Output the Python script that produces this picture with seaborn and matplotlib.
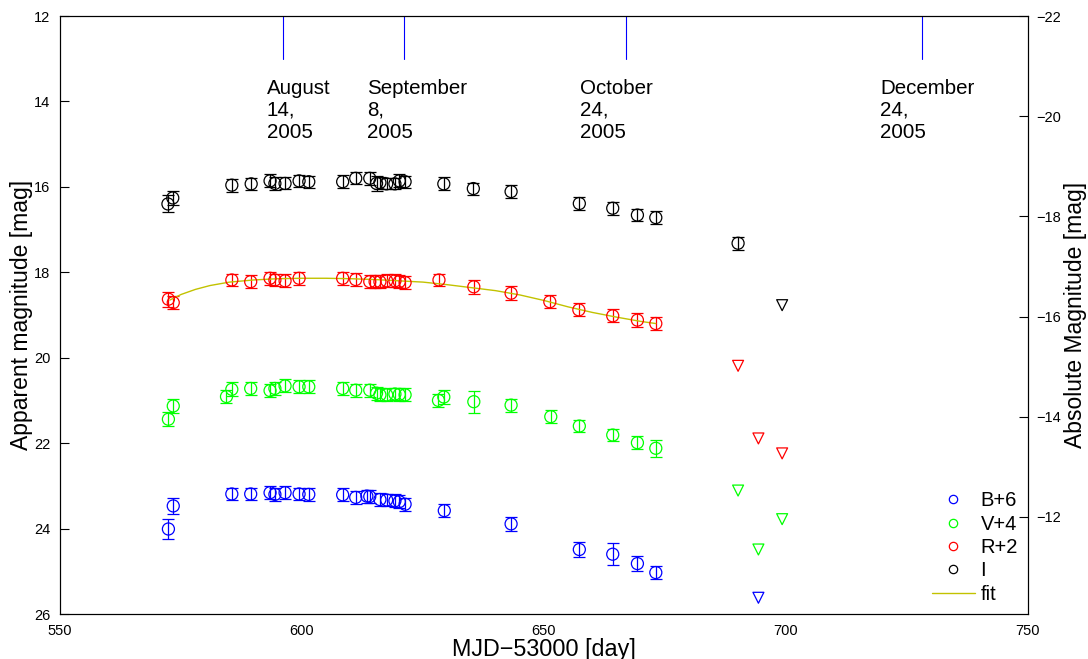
import numpy as np
import pandas as pd
import matplotlib
matplotlib.use("Agg")
import matplotlib.pyplot as plt
from matplotlib.lines import Line2D
import seaborn as sns

# ---------------- data ----------------
i_day = [572.3, 573.3, 585.5, 589.5, 593.4, 594.4, 596.5, 599.4, 601.4, 608.4, 611.1, 614.0,
         615.4, 616.1, 617.5, 619.2, 620.1, 621.3, 629.3, 635.4, 643.2, 657.3, 664.2, 669.3,
         673.1, 690.1]
i_mag = [16.40, 16.26, 15.96, 15.93, 15.86, 15.92, 15.92, 15.86, 15.88, 15.88, 15.80, 15.80,
         15.92, 15.90, 15.93, 15.93, 15.86, 15.88, 15.93, 16.04, 16.11, 16.39, 16.50, 16.66,
         16.72, 17.32]
i_err = [0.20, 0.17, 0.15, 0.14, 0.15, 0.16, 0.14, 0.14, 0.14, 0.15, 0.14, 0.15,
         0.17, 0.14, 0.13, 0.13, 0.15, 0.14, 0.15, 0.14, 0.15, 0.15, 0.15, 0.15,
         0.15, 0.15]

r_day = [572.4, 573.4, 585.5, 589.4, 593.4, 594.4, 596.5, 599.4, 608.4, 611.1, 614.0, 615.1,
         616.1, 617.5, 619.2, 620.1, 621.3, 628.3, 635.5, 643.2, 651.2, 657.2, 664.2, 669.3,
         673.1]
r_mag = [18.63, 18.71, 18.18, 18.22, 18.14, 18.18, 18.20, 18.14, 18.14, 18.17, 18.22, 18.22,
         18.22, 18.20, 18.20, 18.22, 18.24, 18.18, 18.34, 18.49, 18.69, 18.88, 19.02, 19.12,
         19.20]
r_err = [0.18, 0.16, 0.15, 0.15, 0.15, 0.15, 0.15, 0.15, 0.15, 0.15, 0.15, 0.15,
         0.15, 0.15, 0.15, 0.15, 0.15, 0.15, 0.16, 0.16, 0.15, 0.15, 0.15, 0.16,
         0.15]

v_day = [572.4, 573.4, 584.4, 585.5, 589.4, 593.4, 594.4, 596.5, 599.4, 601.4, 608.4, 611.1,
         614.0, 615.4, 616.1, 617.5, 619.2, 620.1, 621.3, 628.2, 629.3, 635.5, 643.2, 651.4,
         657.3, 664.2, 669.3, 673.1]
v_mag = [21.44, 21.13, 20.91, 20.74, 20.72, 20.77, 20.72, 20.66, 20.68, 20.68, 20.72, 20.76,
         20.76, 20.83, 20.87, 20.87, 20.85, 20.86, 20.87, 21.00, 20.92, 21.03, 21.11, 21.38,
         21.60, 21.81, 21.99, 22.12]
v_err = [0.17, 0.17, 0.15, 0.16, 0.15, 0.15, 0.15, 0.15, 0.15, 0.15, 0.15, 0.15,
         0.15, 0.15, 0.15, 0.15, 0.15, 0.15, 0.15, 0.15, 0.16, 0.26, 0.15, 0.15,
         0.15, 0.15, 0.15, 0.20]

b_day = [572.4, 573.4, 585.5, 589.4, 593.4, 594.4, 596.5, 599.4, 601.4, 608.4, 611.1, 613.4,
         614.0, 616.1, 617.5, 619.2, 620.1, 621.3, 629.4, 643.2, 657.3, 664.2, 669.3, 673.1]
b_mag = [24.01, 23.47, 23.19, 23.19, 23.16, 23.20, 23.16, 23.19, 23.20, 23.21, 23.27, 23.24,
         23.25, 23.32, 23.33, 23.35, 23.37, 23.43, 23.58, 23.89, 24.49, 24.60, 24.82, 25.03]
b_err = [0.24, 0.18, 0.15, 0.15, 0.15, 0.15, 0.15, 0.15, 0.15, 0.15, 0.15, 0.15,
         0.15, 0.15, 0.15, 0.15, 0.15, 0.15, 0.15, 0.17, 0.18, 0.26, 0.17, 0.15]

# upper limits (open down-triangles)
i_lim_day = [699.2]
i_lim_mag = [18.77]
r_lim_day = [690.1, 694.3, 699.2]
r_lim_mag = [20.19, 21.89, 22.24]
v_lim_day = [690.1, 694.3, 699.2]
v_lim_mag = [23.11, 24.49, 23.78]
b_lim_day = [694.3]
b_lim_mag = [25.62]

# fit curve to R band
fit_day = [572.7, 575, 578, 581, 585, 590, 595, 600, 605, 610, 615, 620, 625, 630, 635,
           640, 645, 650, 655, 660, 665, 670, 673.1]
fit_mag = [18.65, 18.52, 18.40, 18.31, 18.23, 18.18, 18.15, 18.14, 18.14, 18.15, 18.17,
           18.20, 18.23, 18.29, 18.36, 18.43, 18.53, 18.66, 18.81, 18.94, 19.05, 19.15, 19.20]

# date markers
date_day = [596, 621, 667, 728]
date_text_day = [592.7, 613.4, 657.4, 719.4]
date_labels = ["August\n14,\n2005", "September\n8,\n2005", "October\n24,\n2005",
               "December\n24,\n2005"]

band_labels = ["B+6", "V+4", "R+2", "I"]
band_colors = ["#0000ff", "#00ff00", "#ff0000", "#000000"]
fit_color = "#c2c200"

# ---------------- figure ----------------
sns.set_theme(style="white")
plt.rcParams["font.family"] = ["Liberation Sans", "DejaVu Sans"]
plt.rcParams["axes.edgecolor"] = "black"
plt.rcParams["axes.linewidth"] = 0.8
plt.rcParams["xtick.color"] = "black"
plt.rcParams["ytick.color"] = "black"
plt.rcParams["text.color"] = "black"
plt.rcParams["axes.labelcolor"] = "black"

fig = plt.figure(figsize=(10.88, 6.59), dpi=100)
ax = fig.add_axes([60 / 1088, 45 / 659, 968 / 1088, 598 / 659])

series = [
    (b_day, b_mag, b_err, b_lim_day, b_lim_mag),
    (v_day, v_mag, v_err, v_lim_day, v_lim_mag),
    (r_day, r_mag, r_err, r_lim_day, r_lim_mag),
    (i_day, i_mag, i_err, i_lim_day, i_lim_mag),
]

for (d, m, e, ld, lm), col in zip(series, band_colors):
    ax.errorbar(d, m, yerr=e, fmt="none", ecolor=col, elinewidth=0.9,
                capsize=4.5, capthick=0.9, zorder=2)
    df = pd.DataFrame({"day": d, "mag": m})
    sns.scatterplot(data=df, x="day", y="mag", ax=ax, marker="o", s=75,
                    facecolor="none", edgecolor=col, linewidth=0.9, zorder=3)
    dfl = pd.DataFrame({"day": ld, "mag": lm})
    sns.scatterplot(data=dfl, x="day", y="mag", ax=ax, marker="v", s=62,
                    facecolor="none", edgecolor=col, linewidth=0.9, zorder=3)

dff = pd.DataFrame({"day": fit_day, "mag": fit_mag})
sns.lineplot(data=dff, x="day", y="mag", ax=ax, sort=False, estimator=None,
             color=fit_color, linewidth=1.0, zorder=2)

# date markers
for dd, tx, lab in zip(date_day, date_text_day, date_labels):
    ax.plot([dd, dd], [12.0, 13.0], color="#0000ff", linewidth=0.8, zorder=1)
    ax.text(tx, 13.48, lab, ha="left", va="top", fontsize=14.8, linespacing=1.18)

ax.set_xlim(550, 750)
ax.set_ylim(26, 12)
ax.set_xticks([550, 600, 650, 700, 750])
ax.set_yticks([12, 14, 16, 18, 20, 22, 24, 26])
ax.tick_params(direction="in", length=6.5, width=0.8, labelsize=10.5, pad=7)
ax.set_xlabel("MJD\u221253000 [day]", fontsize=16.8, labelpad=0)
ax.set_ylabel("Apparent magnitude [mag]", fontsize=16.5, labelpad=1)
for s in ax.spines.values():
    s.set_visible(True)
    s.set_color("black")
ax.set_yticklabels([str(t) for t in [12, 14, 16, 18, 20, 22, 24, 26]])

ax2 = ax.twinx()
ax2.set_ylim(-10.06, -22)
ax2.set_yticks([-22, -20, -18, -16, -14, -12])
ax2.set_yticklabels(["\u221222", "\u221220", "\u221218", "\u221216", "\u221214", "\u221212"])
ax2.tick_params(direction="in", length=6.5, width=0.8, labelsize=10.5, pad=6)
ax2.set_ylabel("Absolute Magnitude [mag]", fontsize=16.5, labelpad=2)

handles = [Line2D([], [], linestyle="none", marker="o", markersize=6,
                  markerfacecolor="none", markeredgecolor=c, markeredgewidth=0.9)
           for c in band_colors]
handles.append(Line2D([], [], color=fit_color, linewidth=1.0))
ax.legend(handles, band_labels + ["fit"], loc="lower right", frameon=False,
          fontsize=14.5, handlelength=2.1, handletextpad=0.3, labelspacing=0.22,
          bbox_to_anchor=(1.0, 0.0), borderaxespad=0.1)

fig.savefig("out.png", dpi=100)
